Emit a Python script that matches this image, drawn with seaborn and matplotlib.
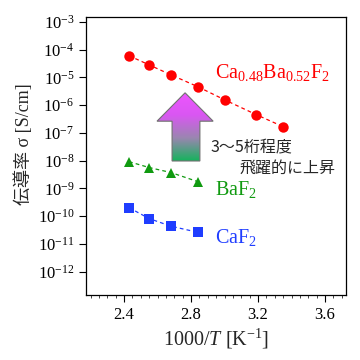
import numpy as np
import pandas as pd
import matplotlib
matplotlib.use("Agg")
import matplotlib.pyplot as plt
import seaborn as sns
from matplotlib.patches import Polygon
from matplotlib.ticker import FuncFormatter, LogLocator, MultipleLocator, NullLocator

# data
x_mix = [2.43, 2.55, 2.68, 2.84, 3.00, 3.19, 3.35]
sigma_mix = [6.0e-5, 2.8e-5, 1.23e-5, 4.6e-6, 1.55e-6, 4.5e-7, 1.66e-7]
x_baf2 = [2.43, 2.55, 2.68, 2.84]
sigma_baf2 = [9.1e-9, 5.6e-9, 3.7e-9, 1.74e-9]
x_caf2 = [2.43, 2.55, 2.68, 2.84]
sigma_caf2 = [2.0e-10, 8.1e-11, 4.3e-11, 2.6e-11]

x_ticks = [2.4, 2.8, 3.2, 3.6]

df = pd.concat([
    pd.DataFrame({"x": x_mix, "sigma": sigma_mix, "material": "mix"}),
    pd.DataFrame({"x": x_baf2, "sigma": sigma_baf2, "material": "BaF2"}),
    pd.DataFrame({"x": x_caf2, "sigma": sigma_caf2, "material": "CaF2"}),
])

colors = {"mix": "#ff0000", "BaF2": "#109a10", "CaF2": "#1f3dff"}

sns.set_style("ticks")
plt.rcParams["font.family"] = ["Liberation Serif", "Noto Sans CJK JP"]
plt.rcParams["mathtext.fontset"] = "custom"
plt.rcParams["mathtext.rm"] = "Liberation Serif"
plt.rcParams["mathtext.it"] = "Liberation Serif:italic"

fig = plt.figure(figsize=(3.6, 3.6), dpi=100)
ax = fig.add_axes([0.239, 0.181, 0.722, 0.773])

sns.lineplot(data=df, x="x", y="sigma", hue="material", style="material",
             palette=colors, markers={"mix": "o", "BaF2": "^", "CaF2": "s"},
             dashes={"mix": (3, 2.5), "BaF2": (3, 2.5), "CaF2": (3, 2.5)},
             markersize=7.5, markeredgewidth=0, linewidth=0.9,
             legend=False, ax=ax, sort=False)

ax.set_yscale("log")
ax.set_ylim(10 ** -12.84, 10 ** -2.81)
ax.set_xlim(2.173, 3.725)
ax.yaxis.set_major_locator(LogLocator(base=10, numticks=15))
ax.yaxis.set_minor_locator(NullLocator())
ax.yaxis.set_major_formatter(FuncFormatter(lambda v, p: r"$\mathregular{10^{%d}}$" % round(np.log10(v))))
ax.set_xticks(x_ticks)
ax.xaxis.set_minor_locator(MultipleLocator(0.05))
ax.xaxis.set_major_formatter(FuncFormatter(lambda v, p: "%.1f" % v))
ax.tick_params(axis="both", which="major", direction="out", length=5, width=0.8,
               labelsize=12, colors="black", top=False, right=False)
ax.tick_params(axis="x", which="minor", direction="out", length=2.5, width=0.6, top=False)
for s in ax.spines.values():
    s.set_color("black")
    s.set_linewidth(0.9)

ax.set_xlabel(r"1000/$T$ [K$^{\mathregular{-1}}$]", fontsize=14.5, labelpad=3)
ax.set_ylabel("伝導率 σ [S/cm]", fontsize=13)
ax.yaxis.set_label_coords(-0.205, 0.54)

# gradient arrow
arrow = [(0.331, 0.481), (0.331, 0.624), (0.273, 0.624), (0.381, 0.726),
         (0.489, 0.624), (0.438, 0.624), (0.438, 0.481)]
poly = Polygon(arrow, closed=True, transform=ax.transAxes, facecolor="none",
               edgecolor="#707070", linewidth=0.8, zorder=4)
ax.add_patch(poly)
cmap = matplotlib.colors.LinearSegmentedColormap.from_list(
    "arr", ["#15b35c", "#9a86b0", "#d957f2", "#ee55ff"])
grad = np.linspace(0, 1, 256).reshape(-1, 1)
img = ax.imshow(grad, cmap=cmap, origin="lower", aspect="auto",
                extent=[0.27, 0.49, 0.481, 0.726], transform=ax.transAxes, zorder=3)
img.set_clip_path(poly)

ax.text(0.477, 0.528, "3～5桁程度", transform=ax.transAxes, fontsize=11.5,
        family=["Noto Sans CJK JP", "DejaVu Sans"], va="center", ha="left")
ax.text(0.59, 0.456, "飛躍的に上昇", transform=ax.transAxes, fontsize=11.5,
        family=["Noto Sans CJK JP", "DejaVu Sans"], va="center", ha="left")

ax.text(0.496, 0.80, r"$\mathregular{Ca_{0.48}Ba_{0.52}F_2}$", transform=ax.transAxes,
        fontsize=14.5, color=colors["mix"], va="center", ha="left")
ax.text(0.496, 0.377, r"$\mathregular{BaF_2}$", transform=ax.transAxes,
        fontsize=14.5, color=colors["BaF2"], va="center", ha="left")
ax.text(0.496, 0.205, r"$\mathregular{CaF_2}$", transform=ax.transAxes,
        fontsize=14.5, color=colors["CaF2"], va="center", ha="left")

fig.savefig("out.png", dpi=100)
